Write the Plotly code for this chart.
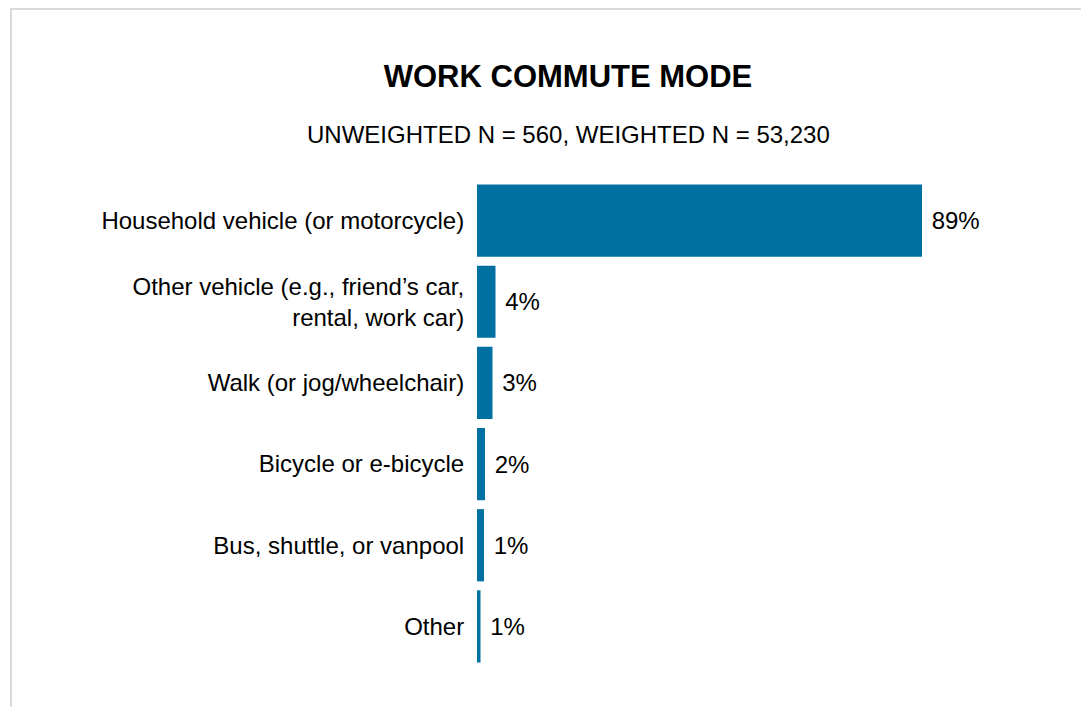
import plotly.graph_objects as go

# data
modes = [
    "Household vehicle (or motorcycle)",
    "Other vehicle (e.g., friend’s car,<br>rental, work car)",
    "Walk (or jog/wheelchair)",
    "Bicycle or e-bicycle",
    "Bus, shuttle, or vanpool",
    "Other",
]
shares = [89.0, 3.7, 3.1, 1.6, 1.4, 0.7]
share_labels = ["89%", "4%", "3%", "2%", "1%", "1%"]

W, H = 1089, 707
L, R, T, B = 469, 58, 172, 48
FONT = "Liberation Sans, Arial, sans-serif"

fig = go.Figure()
fig.add_trace(go.Bar(
    x=shares,
    y=modes,
    orientation="h",
    marker=dict(color="#0070A2", line=dict(width=0)),
    text=share_labels,
    texttemplate="\u00a0%{text}",
    textposition="outside",
    textfont=dict(size=24, color="#000000", family=FONT),
    cliponaxis=False,
    hoverinfo="skip",
))

plot_w = W - L - R
plot_h = H - T - B
fig.update_layout(
    width=W, height=H,
    margin=dict(l=L, r=R, t=T, b=B),
    paper_bgcolor="white",
    plot_bgcolor="white",
    showlegend=False,
    bargap=0.11,
    font=dict(family=FONT, color="#000000"),
    title=dict(
        text="<b>WORK COMMUTE MODE</b>",
        x=560 / W, xanchor="center",
        y=1 - 68 / H, yanchor="middle",
        font=dict(size=31, family=FONT, color="#000000"),
    ),
    xaxis=dict(
        range=[0, plot_w / 5.0],
        visible=False,
        fixedrange=True,
    ),
    yaxis=dict(
        autorange="reversed",
        showgrid=False,
        zeroline=False,
        showline=False,
        ticks="outside",
        ticklen=7,
        tickcolor="rgba(0,0,0,0)",
        tickfont=dict(size=24, family=FONT, color="#000000"),
    ),
    annotations=[dict(
        text="UNWEIGHTED N = 560, WEIGHTED N = 53,230",
        xref="paper", yref="paper",
        x=(560 - L) / plot_w, y=1 + (T - 126) / plot_h,
        xanchor="center", yanchor="middle",
        showarrow=False,
        font=dict(size=24, family=FONT, color="#000000"),
    )],
    shapes=[dict(
        type="rect", xref="paper", yref="paper",
        x0=(3 - L) / plot_w, x1=(W + 40 - L) / plot_w,
        y0=-(B + 40) / plot_h, y1=1 + (T - 1) / plot_h,
        line=dict(color="#DADADA", width=2),
        fillcolor="rgba(0,0,0,0)",
        layer="below",
    )],
)

fig.write_html("out.html")
